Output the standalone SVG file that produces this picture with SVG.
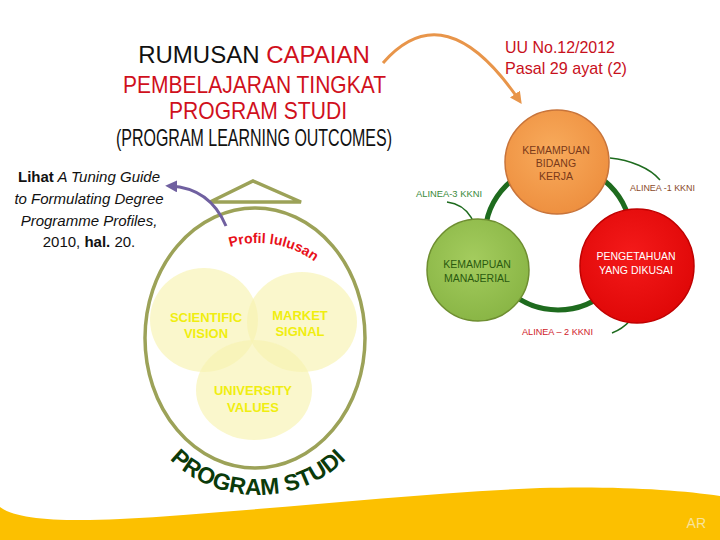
<svg xmlns="http://www.w3.org/2000/svg" width="720" height="540" viewBox="0 0 720 540">
<defs>
<style>
.title{font-family:"Liberation Sans",Arial,sans-serif;font-size:24px;}
.red{fill:#d0101c;}
.blk{fill:#111;}
.ref{font-family:"Liberation Sans",Arial,sans-serif;font-size:15px;fill:#111;}
.venn{font-family:"Liberation Sans",Arial,sans-serif;font-size:13px;font-weight:900;fill:#f0ee10;text-anchor:middle;}
.ctext{font-family:"Liberation Sans",Arial,sans-serif;font-size:10.5px;text-anchor:middle;}
.alinea{font-family:"Liberation Sans",Arial,sans-serif;font-size:9.5px;}
.law{font-family:"Liberation Sans",Arial,sans-serif;font-size:17px;fill:#c8101c;}
.olive{fill:none;stroke:#9ca258;stroke-width:3.5;}
.vc{fill:#f7f3b0;fill-opacity:0.65;}
.leader{fill:none;stroke:#1e6b1e;stroke-width:1.5;}
</style>
<marker id="ahOrange" viewBox="0 0 10 10" refX="6" refY="5" markerWidth="4" markerHeight="4" orient="auto"><path d="M0,0 L10,5 L0,10 Z" fill="#e8954a"/></marker>
<marker id="ahPurple" viewBox="0 0 10 10" refX="6" refY="5" markerWidth="4" markerHeight="4" orient="auto"><path d="M0,0 L10,5 L0,10 Z" fill="#7060a0"/></marker>
<radialGradient id="gOrange" cx="0.45" cy="0.4" r="0.6"><stop offset="0" stop-color="#f8ab5c"/><stop offset="1" stop-color="#ee9040"/></radialGradient>
<radialGradient id="gGreen" cx="0.45" cy="0.4" r="0.6"><stop offset="0" stop-color="#a4cc5e"/><stop offset="1" stop-color="#8ab646"/></radialGradient>
<radialGradient id="gRed" cx="0.45" cy="0.4" r="0.6"><stop offset="0" stop-color="#f41a1a"/><stop offset="1" stop-color="#e00808"/></radialGradient>
<path id="arcTop" d="M163,338 A95,95 0 0 1 353,338"/>
<path id="arcBottom" d="M140,388 A118,107 0 0 0 376,388"/>
</defs>
<rect width="720" height="540" fill="#ffffff"/>

<g id="footer">
<path d="M0,507 C15,519 60,522 120,519 C250,512 400,494 540,488 C620,486 680,490 720,496 L720,540 L0,540 Z" fill="#fcc000"/>
<text x="706" y="528" text-anchor="end" font-family="Liberation Sans,Arial,sans-serif" font-size="14" fill="#f8e39a">AR</text>
</g>

<g id="title">
<text class="title" x="254" y="63" text-anchor="middle"><tspan class="blk">RUMUSAN </tspan><tspan class="red">CAPAIAN</tspan></text>
<text class="title red" x="123" y="93" textLength="263" lengthAdjust="spacingAndGlyphs">PEMBELAJARAN TINGKAT</text>
<text class="title red" x="169" y="119" textLength="178" lengthAdjust="spacingAndGlyphs">PROGRAM STUDI</text>
<text class="title blk" x="116" y="146" font-size="18" textLength="276" lengthAdjust="spacingAndGlyphs">(PROGRAM LEARNING OUTCOMES)</text>
</g>

<g id="law">
<text class="law" x="505" y="53" textLength="110" lengthAdjust="spacingAndGlyphs">UU No.12/2012</text>
<text class="law" x="505" y="74" textLength="122" lengthAdjust="spacingAndGlyphs">Pasal 29 ayat (2)</text>
</g>

<g id="reference">
<text class="ref" x="89" y="182" text-anchor="middle"><tspan font-weight="bold">Lihat</tspan><tspan font-style="italic"> A Tuning Guide</tspan></text>
<text class="ref" x="89" y="204" text-anchor="middle" font-style="italic">to Formulating Degree</text>
<text class="ref" x="89" y="226" text-anchor="middle" font-style="italic">Programme Profiles,</text>
<text class="ref" x="89" y="247" text-anchor="middle">2010, <tspan font-weight="bold">hal.</tspan> 20.</text>
</g>

<g id="profile">
<path class="olive" d="M210,202 L253,181 L301,202 Z" stroke-width="3"/>
<ellipse class="olive" cx="255" cy="338" rx="110" ry="130"/>
<ellipse class="vc" cx="204" cy="320" rx="54" ry="52"/>
<ellipse class="vc" cx="302" cy="322" rx="55" ry="50"/>
<ellipse class="vc" cx="254" cy="390" rx="58" ry="50"/>
<text class="venn" x="206" y="322">SCIENTIFIC</text>
<text class="venn" x="206" y="338">VISION</text>
<text class="venn" x="300" y="320">MARKET</text>
<text class="venn" x="300" y="336">SIGNAL</text>
<text class="venn" x="253" y="395">UNIVERSITY</text>
<text class="venn" x="253" y="412">VALUES</text>
<text font-family="Liberation Sans,Arial,sans-serif" font-size="14" font-weight="900" fill="#e8101a"><textPath href="#arcTop" startOffset="165" text-anchor="middle">Profil lulusan</textPath></text>
<text font-family="Liberation Sans,Arial,sans-serif" font-size="23" font-weight="900" fill="#0a3a0a"><textPath href="#arcBottom" startOffset="50%" text-anchor="middle">PROGRAM STUDI</textPath></text>
</g>

<g id="connectors">
<path d="M383,63 Q445,-8 519,100" fill="none" stroke="#e8954a" stroke-width="3" marker-end="url(#ahOrange)"/>
<path d="M226,226 Q210,188 170,186" fill="none" stroke="#7060a0" stroke-width="3" marker-end="url(#ahPurple)"/>
<circle cx="558" cy="237" r="73" fill="none" stroke="#1e6b1e" stroke-width="5"/>
<path class="leader" d="M610,158 C630,160 650,168 660,180"/>
<path class="leader" d="M447,202 C470,205 478,225 478,247"/>
<path class="leader" d="M640,302 C635,318 625,328 612,333"/>
</g>

<g id="kkni-orange">
<circle cx="557" cy="162" r="52" fill="url(#gOrange)" stroke="#c8743a" stroke-width="1.5"/>
<text class="ctext" x="556" y="154" fill="#7a3a1a">KEMAMPUAN</text>
<text class="ctext" x="556" y="167" fill="#7a3a1a">BIDANG</text>
<text class="ctext" x="556" y="180" fill="#7a3a1a">KERJA</text>
</g>
<g id="kkni-green">
<circle cx="478" cy="270" r="51" fill="url(#gGreen)" stroke="#6e8e30" stroke-width="1.5"/>
<text class="ctext" x="477" y="268" fill="#2a5a10">KEMAMPUAN</text>
<text class="ctext" x="477" y="282" fill="#2a5a10">MANAJERIAL</text>
</g>
<g id="kkni-red">
<circle cx="637" cy="266" r="57" fill="url(#gRed)" stroke="#c00000" stroke-width="1.5"/>
<text class="ctext" x="636" y="260" fill="#ffffff">PENGETAHUAN</text>
<text class="ctext" x="636" y="274" fill="#ffffff">YANG DIKUSAI</text>
</g>
<g id="labels">
<text class="alinea" x="416" y="197" fill="#3a8a3a" textLength="66" lengthAdjust="spacingAndGlyphs">ALINEA-3 KKNI</text>
<text class="alinea" x="630" y="191" fill="#8a4a2a" textLength="65" lengthAdjust="spacingAndGlyphs">ALINEA -1 KKNI</text>
<text class="alinea" x="522" y="335" fill="#d01a2a" textLength="71" lengthAdjust="spacingAndGlyphs">ALINEA – 2 KKNI</text>
</g>
</svg>
